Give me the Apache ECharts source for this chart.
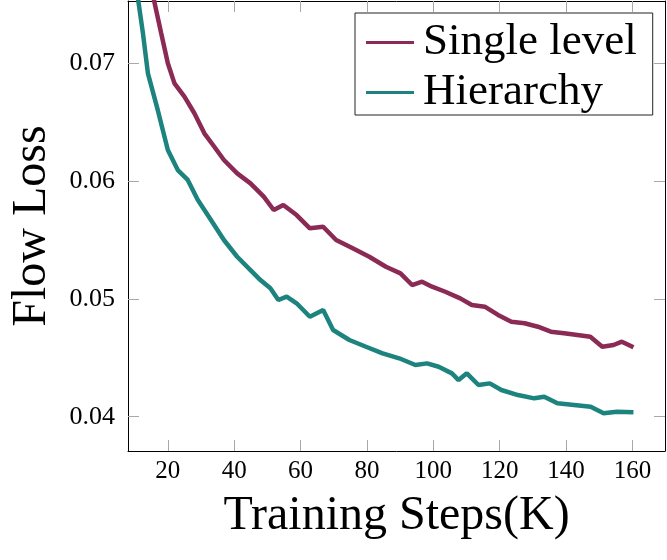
<!DOCTYPE html>
<html>
<head>
<meta charset="utf-8">
<script src="https://cdn.jsdelivr.net/npm/echarts@6/dist/echarts.min.js"></script>
<style>html,body{margin:0;padding:0;background:#fff}#c{width:667px;height:560px}</style>
</head>
<body>
<div id="c"></div>
<script>
// Training steps (K) and flow loss values
const singleSteps = [15.2,15.8,18.0,20,22,25,28,31,34,36.9,40.9,44.9,48.9,51.9,54.8,58.8,62.8,66.8,70.7,75.7,80.7,85.7,90.1,93.6,96.6,99.6,103.6,108.1,111.6,115.5,119.5,123.5,127.5,131.5,135.4,139.4,143.4,147.3,150.9,154.3,156.8,160.3];
const singleLoss  = [0.0762,0.0754,0.07255,0.0700,0.0683,0.06717,0.06576,0.06406,0.06292,0.06179,0.06066,0.05981,0.05868,0.05755,0.05797,0.05712,0.05599,0.05613,0.0550,0.0543,0.05358,0.05273,0.05217,0.05118,0.05146,0.05104,0.05061,0.05005,0.04948,0.04934,0.04864,0.04807,0.04793,0.04764,0.04722,0.04708,0.04694,0.04679,0.04594,0.04609,0.04637,0.04589];
const hierSteps = [10.5,11.05,12.5,14.0,17.0,20,23,26,29,33,36.9,40.9,44.9,47.9,50.9,53.3,55.8,58.8,62.8,66.8,69.8,74.7,79.7,84.7,89.7,94.6,98.1,101.6,105.6,107.6,110.1,113.6,117.0,120.5,125.5,130.4,133.4,137.4,142.4,147.4,151.3,155.3,160.3];
const hierLoss  = [0.0765,0.0754,0.07255,0.06915,0.0660,0.06264,0.06094,0.0601,0.05841,0.0567,0.0550,0.05358,0.05245,0.0516,0.0509,0.04991,0.05019,0.04963,0.04849,0.04906,0.04736,0.04651,0.04594,0.04538,0.04496,0.04439,0.04453,0.04424,0.04368,0.04311,0.04368,0.04269,0.04283,0.04227,0.04184,0.04156,0.0417,0.04114,0.041,0.04085,0.04029,0.04043,0.04038];
const xTicks = [20,40,60,80,100,120,140,160];
const yTicks = [0.04,0.05,0.06,0.07];
const seriesNames = ['Single level','Hierarchy'];

const FONT = 'Liberation Serif';
const chart = echarts.init(document.getElementById('c'), null, {renderer:'canvas'});
const zip = (a,b) => a.map((v,i)=>[v,b[i]]);
const tickStyle = {show:true, inside:true, length:11, lineStyle:{color:'#a8a8a8', width:1}};
chart.setOption({
  animation:false,
  backgroundColor:'#fff',
  grid:{left:123, right:2, top:1, bottom:109, containLabel:false},
  legend:{
    show:true, orient:'vertical', left:355, top:13,
    padding:[7,16,0,11], itemGap:5, itemWidth:48, itemHeight:3,
    backgroundColor:'#fff', borderColor:'#222', borderWidth:1,
    icon:'rect',
    data:seriesNames,
    textStyle:{fontFamily:FONT, fontSize:45, lineHeight:45, color:'#000', padding:[0,0,0,4]}
  },
  xAxis:[{
    type:'value', position:'bottom', min:8, max:169.8,
    name:'Training Steps(K)', nameLocation:'middle', nameGap:65,
    nameTextStyle:{fontFamily:FONT, fontSize:48, color:'#000', verticalAlign:'middle'},
    axisLine:{show:true, onZero:false, lineStyle:{color:'#000', width:1}},
    axisTick:Object.assign({customValues:xTicks}, tickStyle),
    axisLabel:{customValues:xTicks, fontFamily:FONT, fontSize:25, color:'#000', margin:8},
    splitLine:{show:false}
  },{
    type:'value', position:'top', min:8, max:169.8,
    axisLine:{show:true, onZero:false, lineStyle:{color:'#000', width:1}},
    axisTick:Object.assign({customValues:xTicks}, tickStyle),
    axisLabel:{show:false}, splitLine:{show:false}
  }],
  yAxis:[{
    type:'value', position:'left', min:0.03709, max:0.07529,
    name:'Flow Loss', nameLocation:'middle', nameGap:96, nameRotate:90,
    nameTextStyle:{fontFamily:FONT, fontSize:48, color:'#000', verticalAlign:'middle'},
    axisLine:{show:true, onZero:false, lineStyle:{color:'#000', width:1}},
    axisTick:Object.assign({customValues:yTicks}, tickStyle),
    axisLabel:{customValues:yTicks, fontFamily:FONT, fontSize:26, color:'#000', margin:13,
      formatter:v=>v.toFixed(2)},
    splitLine:{show:false}
  },{
    type:'value', position:'right', min:0.03709, max:0.07529,
    axisLine:{show:true, onZero:false, lineStyle:{color:'#000', width:1}},
    axisTick:Object.assign({customValues:yTicks}, tickStyle),
    axisLabel:{show:false}, splitLine:{show:false}
  }],
  series:[{
    name:seriesNames[0], type:'line', xAxisIndex:0, yAxisIndex:0,
    data:zip(singleSteps, singleLoss), showSymbol:false, symbol:'none',
    lineStyle:{color:'#8b2a55', width:4.5}, itemStyle:{color:'#8b2a55'}, clip:true
  },{
    name:seriesNames[1], type:'line', xAxisIndex:0, yAxisIndex:0,
    data:zip(hierSteps, hierLoss), showSymbol:false, symbol:'none',
    lineStyle:{color:'#1d837e', width:4.5}, itemStyle:{color:'#1d837e'}, clip:true
  }]
});
</script>
</body>
</html>
